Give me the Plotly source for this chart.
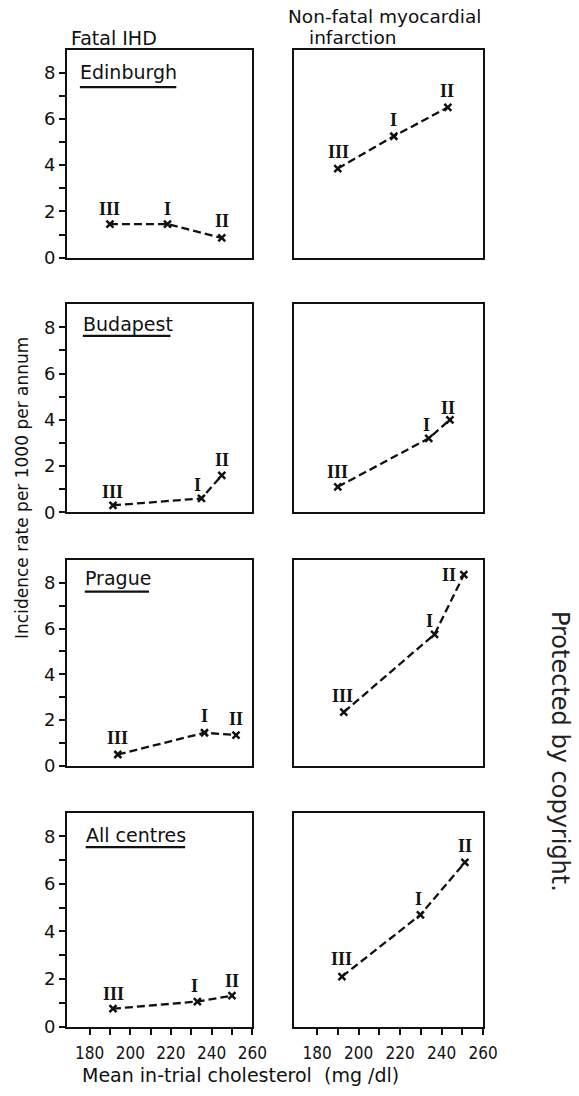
import plotly.graph_objects as go

# ---------------- data ----------------
groups = ["III", "I", "II"]
centres = ["Edinburgh", "Budapest", "Prague", "All centres"]

chol_fatal_edinburgh = [190.0, 218.3, 245.0]
rate_fatal_edinburgh = [1.45, 1.45, 0.85]
chol_mi_edinburgh = [190.0, 217.0, 243.0]
rate_mi_edinburgh = [3.85, 5.25, 6.5]

chol_fatal_budapest = [191.5, 235.0, 245.0]
rate_fatal_budapest = [0.3, 0.6, 1.6]
chol_mi_budapest = [190.0, 233.8, 244.0]
rate_mi_budapest = [1.1, 3.2, 4.0]

chol_fatal_prague = [193.9, 236.5, 252.0]
rate_fatal_prague = [0.5, 1.45, 1.35]
chol_mi_prague = [192.9, 236.6, 250.7]
rate_mi_prague = [2.35, 5.75, 8.35]

chol_fatal_all = [191.5, 233.0, 250.0]
rate_fatal_all = [0.75, 1.05, 1.3]
chol_mi_all = [192.0, 229.8, 251.2]
rate_mi_all = [2.1, 4.7, 6.9]

y_ticks = [0, 1, 2, 3, 4, 5, 6, 7, 8]
y_tick_text = ["0", "", "2", "", "4", "", "6", "", "8"]
x_ticks = [180, 190, 200, 210, 220, 230, 240, 250, 260]
x_tick_text = ["180", "", "200", "", "220", "", "240", "", "260"]

fatal_series = [(chol_fatal_edinburgh, rate_fatal_edinburgh),
                (chol_fatal_budapest, rate_fatal_budapest),
                (chol_fatal_prague, rate_fatal_prague),
                (chol_fatal_all, rate_fatal_all)]
mi_series = [(chol_mi_edinburgh, rate_mi_edinburgh),
             (chol_mi_budapest, rate_mi_budapest),
             (chol_mi_prague, rate_mi_prague),
             (chol_mi_all, rate_mi_all)]

# label offsets (px) for roman numerals: (xshift, yshift) -- styling only
fatal_offsets = [[(0, 15), (0, 15), (0, 17)],
                 [(0, 13), (-4, 13), (0, 15)],
                 [(0, 16), (0, 17), (0, 16)],
                 [(1, 15), (-3, 16), (0, 15)]]
mi_offsets = [[(1, 17), (0, 16), (-1, 16)],
              [(0, 15), (-2, 13), (-2, 12)],
              [(-1, 16), (-5, 13), (-15, 0)],
              [(0, 18), (-2, 16), (0, 16)]]

# ---------------- layout geometry (pixels) ----------------
W, H = 579, 1096
left_px = (69, 259)
right_px = (302, 496)
rows_px = [(50, 260), (307, 517), (565, 773), (820, 1036)]

FONT = "DejaVu Sans"
SERIF = "Liberation Serif"
INK = "#111111"

fig = go.Figure()

def xdom(p):
    return [p[0] / W, p[1] / W]

def ydom(r):
    return [1 - r[1] / H, 1 - r[0] / H]

annotations = []
shapes = []

axis_idx = 0
for r, row in enumerate(rows_px):
    for c, (series, offsets, xp) in enumerate([(fatal_series, fatal_offsets, left_px),
                                                (mi_series, mi_offsets, right_px)]):
        axis_idx += 1
        xa = "x" if axis_idx == 1 else f"x{axis_idx}"
        ya = "y" if axis_idx == 1 else f"y{axis_idx}"
        xs, ys = series[r]
        fig.add_trace(go.Scatter(
            x=xs, y=ys, mode="lines+markers", xaxis=xa, yaxis=ya,
            line=dict(color=INK, width=2.3, dash="8px,4px"),
            marker=dict(symbol="x-thin", size=7, line=dict(color=INK, width=2.5)),
            showlegend=False, hoverinfo="skip"))
        for k, g in enumerate(groups):
            dx, dy = offsets[r][k]
            annotations.append(dict(
                x=xs[k], y=ys[k], xref=xa, yref=ya, text="<b>" + g + "</b>", showarrow=False,
                xanchor="center", yanchor="middle", xshift=dx, yshift=dy,
                font=dict(family=SERIF, size=18, color=INK)))
        bottom = (r == 3)
        xkey = "xaxis" if axis_idx == 1 else f"xaxis{axis_idx}"
        ykey = "yaxis" if axis_idx == 1 else f"yaxis{axis_idx}"
        fig.layout[xkey] = dict(
            domain=xdom(xp), range=[169, 260], anchor=ya,
            showline=True, linecolor=INK, linewidth=2.2, mirror=True,
            showgrid=False, zeroline=False,
            ticks="outside" if bottom else "", ticklen=6, tickwidth=2, tickcolor=INK,
            tickvals=x_ticks if bottom else [], ticktext=x_tick_text if bottom else [],
            showticklabels=bottom, ticklabelstandoff=4,
            tickfont=dict(family="DejaVu Sans Condensed, " + FONT, size=17, color=INK),
            fixedrange=True)
        left = (c == 0)
        fig.layout[ykey] = dict(
            domain=ydom(row), range=[0, 9], anchor=xa,
            showline=True, linecolor=INK, linewidth=2.2, mirror=True,
            showgrid=False, zeroline=False,
            ticks="outside" if left else "", ticklen=6, tickwidth=2, tickcolor=INK,
            tickvals=y_ticks if left else [], ticktext=y_tick_text if left else [],
            showticklabels=left, ticklabelstandoff=0,
            tickfont=dict(family=FONT, size=18, color=INK),
            fixedrange=True)

# centre names with underlines
name_pos = [(80, 73, 88, 181), (83, 327, 339, 175), (85, 583, 597, 153), (86, 843, 855, 190)]
for name, (x0, yc, yu, x1) in zip(centres, name_pos):
    annotations.append(dict(x=x0 / W, y=1 - yc / H, xref="paper", yref="paper",
                            text=name, showarrow=False, xanchor="left", yanchor="middle",
                            font=dict(family=FONT, size=19, color=INK)))
    shapes.append(dict(type="line", xref="paper", yref="paper",
                       x0=(x0 + 2) / W, x1=x1 / W, y0=1 - yu / H, y1=1 - yu / H,
                       line=dict(color=INK, width=2.2)))

# headers
annotations.append(dict(x=71 / W, y=1 - 38 / H, xref="paper", yref="paper", text="Fatal IHD",
                        showarrow=False, xanchor="left", yanchor="middle",
                        font=dict(family=FONT, size=19, color=INK)))
annotations.append(dict(x=295 / W, y=1 - 17 / H, xref="paper", yref="paper",
                        text="Non-fatal myocardial", showarrow=False, xanchor="left",
                        yanchor="middle", borderpad=0,
                        font=dict(family=FONT, size=18.5, color=INK)))
annotations.append(dict(x=316 / W, y=1 - 38 / H, xref="paper", yref="paper",
                        text="infarction", showarrow=False, xanchor="left",
                        yanchor="middle", borderpad=0,
                        font=dict(family=FONT, size=18.5, color=INK)))

# axis titles
annotations.append(dict(x=22 / W, y=1 - 492 / H, xref="paper", yref="paper",
                        text="Incidence rate per 1000 per annum", textangle=-90,
                        showarrow=False, xanchor="center", yanchor="middle",
                        font=dict(family=FONT, size=17, color=INK)))
annotations.append(dict(x=247 / W, y=1 - 1085 / H, xref="paper", yref="paper",
                        text="Mean in-trial cholesterol  (mg /dl)",
                        showarrow=False, xanchor="center", yanchor="middle",
                        font=dict(family=FONT, size=19, color=INK)))

# scan watermark at right edge
annotations.append(dict(x=575 / W, y=1 - 758 / H, xref="paper", yref="paper",
                        text="Protected by copyright.", textangle=90,
                        showarrow=False, xanchor="center", yanchor="middle",
                        font=dict(family=FONT, size=24, color="#222222")))

fig.update_layout(
    width=W, height=H, autosize=False,
    margin=dict(l=0, r=0, t=0, b=0),
    paper_bgcolor="white", plot_bgcolor="white",
    annotations=annotations, shapes=shapes,
    showlegend=False)

fig.write_html("out.html", config={"displayModeBar": False})
